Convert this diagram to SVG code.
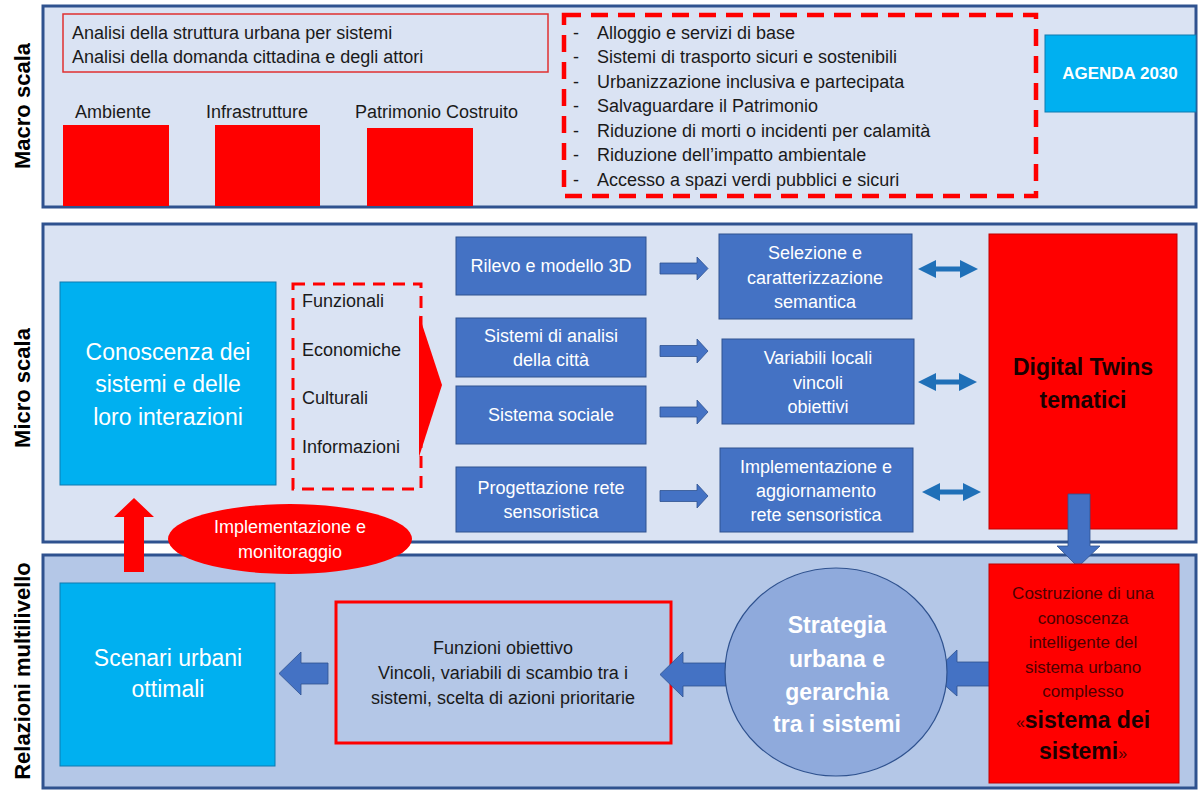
<svg xmlns="http://www.w3.org/2000/svg" width="1200" height="791" viewBox="0 0 1200 791">
<defs>
<style>
text{font-family:"Liberation Sans",Arial,sans-serif;}
.panel{stroke:#2f528f;stroke-width:3;}
.side{font-size:22px;font-weight:bold;fill:#000;text-anchor:middle;}
.t18{font-size:18px;fill:#1a1a1a;}
.w18{font-size:18px;fill:#fff;text-anchor:middle;}
.w23{font-size:23px;fill:#fff;text-anchor:middle;}
.blue{fill:#4472c4;stroke:#2f528f;stroke-width:1;}
.cyan{fill:#00b0f0;stroke:#0f7ab0;stroke-width:1;}
.barrow{fill:#4472c4;stroke:#2f528f;stroke-width:0.8;}
.darrow{fill:#1f70b8;}
.red{fill:#ff0000;}
</style>
</defs>

<!-- panels -->
<g id="panel-macro"><rect class="panel" x="43" y="6" width="1153" height="201" fill="#dae3f3"/>
<text class="side" transform="translate(30,106) rotate(-90)">Macro scala</text></g>
<g id="panel-micro"><rect class="panel" x="43" y="224" width="1153" height="318" fill="#dae3f3"/>
<text class="side" transform="translate(30,388) rotate(-90)">Micro scala</text></g>
<g id="panel-multi"><rect class="panel" x="43" y="555" width="1153" height="233" fill="#b4c7e7"/>
<text class="side" transform="translate(30,671) rotate(-90)">Relazioni multilivello</text></g>

<!-- macro -->
<g id="analisi"><rect x="63" y="14" width="485" height="58" fill="none" stroke="#e03030" stroke-width="1.5"/>
<text class="t18" x="72" y="39">Analisi della struttura urbana per sistemi</text>
<text class="t18" x="72" y="63">Analisi della domanda cittadina e degli attori</text></g>
<g id="ambiente"><text class="t18" x="75" y="118">Ambiente</text><rect class="red" x="63" y="125" width="106" height="81"/></g>
<g id="infrastrutture"><text class="t18" x="206" y="118">Infrastrutture</text><rect class="red" x="215" y="125" width="105" height="81"/></g>
<g id="patrimonio"><text class="t18" x="355" y="118">Patrimonio Costruito</text><rect class="red" x="367" y="128" width="106" height="78"/></g>
<g id="obiettivi-lista"><rect x="564" y="15" width="472" height="181" fill="none" stroke="#ff0000" stroke-width="4.5" stroke-dasharray="17 10"/>
<g class="t18">
<text x="573" y="39">-</text><text x="597" y="39">Alloggio e servizi di base</text>
<text x="573" y="63">-</text><text x="597" y="63">Sistemi di trasporto sicuri e sostenibili</text>
<text x="573" y="88">-</text><text x="597" y="88">Urbanizzazione inclusiva e partecipata</text>
<text x="573" y="112">-</text><text x="597" y="112">Salvaguardare il Patrimonio</text>
<text x="573" y="137">-</text><text x="597" y="137">Riduzione di morti o incidenti per calamità</text>
<text x="573" y="161">-</text><text x="597" y="161">Riduzione dell’impatto ambientale</text>
<text x="573" y="186">-</text><text x="597" y="186">Accesso a spazi verdi pubblici e sicuri</text>
</g></g>
<g id="agenda"><rect class="cyan" x="1045" y="35" width="151" height="77"/>
<text x="1120" y="79" font-size="17" font-weight="bold" fill="#fff" text-anchor="middle">AGENDA 2030</text></g>

<!-- micro -->
<g id="conoscenza"><rect class="cyan" x="60" y="282" width="216" height="203"/>
<text class="w23" x="168" y="360">Conoscenza dei</text>
<text class="w23" x="168" y="392">sistemi e delle</text>
<text class="w23" x="168" y="425">loro interazioni</text></g>
<g id="dimensioni"><rect x="293" y="284" width="128" height="205" fill="none" stroke="#ff0000" stroke-width="3" stroke-dasharray="12 8"/>
<g class="t18"><text x="302" y="307">Funzionali</text><text x="302" y="356">Economiche</text><text x="302" y="404">Culturali</text><text x="302" y="453">Informazioni</text></g></g>
<g id="rilevo"><rect class="blue" x="456" y="237" width="190" height="58"/><text class="w18" x="551" y="272">Rilevo e modello 3D</text></g>
<g id="sistemi-analisi"><rect class="blue" x="456" y="318" width="190" height="59"/><text class="w18" x="551" y="342">Sistemi di analisi</text><text class="w18" x="551" y="366">della città</text></g>
<g id="sociale"><rect class="blue" x="456" y="386" width="190" height="58"/><text class="w18" x="551" y="421">Sistema sociale</text></g>
<g id="progettazione"><rect class="blue" x="456" y="467" width="190" height="65"/><text class="w18" x="551" y="494">Progettazione rete</text><text class="w18" x="551" y="518">sensoristica</text></g>
<g id="selezione"><rect class="blue" x="719" y="234" width="193" height="85"/><text class="w18" x="815" y="259">Selezione e</text><text class="w18" x="815" y="284">caratterizzazione</text><text class="w18" x="815" y="308">semantica</text></g>
<g id="variabili"><rect class="blue" x="722" y="339" width="192" height="85"/><text class="w18" x="818" y="364">Variabili locali</text><text class="w18" x="818" y="389">vincoli</text><text class="w18" x="818" y="413">obiettivi</text></g>
<g id="implementazione"><rect class="blue" x="720" y="448" width="193" height="84"/><text class="w18" x="816" y="473">Implementazione e</text><text class="w18" x="816" y="497">aggiornamento</text><text class="w18" x="816" y="521">rete sensoristica</text></g>
<g id="digital-twins"><rect x="989" y="234" width="188" height="295" fill="#ff0000" stroke="#c00000" stroke-width="1"/>
<text x="1083" y="375" font-size="23" font-weight="bold" fill="#1a0000" text-anchor="middle">Digital Twins</text>
<text x="1083" y="408" font-size="23" font-weight="bold" fill="#1a0000" text-anchor="middle">tematici</text></g>

<!-- bottom -->
<g id="scenari"><rect class="cyan" x="60" y="583" width="215" height="183"/>
<text class="w23" x="168" y="666">Scenari urbani</text><text class="w23" x="168" y="697">ottimali</text></g>
<g id="funzioni"><rect x="336" y="602" width="335" height="141" fill="none" stroke="#ff0000" stroke-width="3"/>
<g class="t18" text-anchor="middle"><text x="503" y="654">Funzioni obiettivo</text><text x="503" y="679">Vincoli, variabili di scambio tra i</text><text x="503" y="704">sistemi, scelta di azioni prioritarie</text></g></g>

<!-- connectors -->
<g id="connectors">
<path class="barrow" d="M660 263H697V257L708 268.5L697 280V274H660Z"/>
<path class="barrow" d="M660 345.5H697V339L708 351L697 363V356.5H660Z"/>
<path class="barrow" d="M660 407H697V400L708 412L697 424V417H660Z"/>
<path class="barrow" d="M660 490.5H697V484L708 496L697 508V501.5H660Z"/>
<path class="darrow" d="M918 269L936 260V266.5H960V260L978 269L960 278V271.5H936V278Z"/>
<path class="darrow" d="M918 382L936 373V379.5H959V373L977 382L959 391V384.5H936V391Z"/>
<path class="darrow" d="M922 492L940 483V489.5H963V483L981 492L963 501V494.5H940V501Z"/>
<path class="red" d="M419 315L442 385L419 457Z"/>
<path class="red" d="M124 572V517H114L134 498L154 517H144V572Z"/>
<path class="barrow" d="M1068 494H1090V546H1100L1078 567L1057 546H1068Z"/>
<path class="barrow" d="M328 663V684H301V695L279 673.5L301 652V663Z"/>
<path class="barrow" d="M726 663V686H683V697L660 674.5L683 652V663Z"/>
<path class="barrow" d="M995 662V686H957V696L932 674L957 650V662Z"/>
</g>

<g id="monitoraggio"><ellipse cx="290" cy="539" rx="122" ry="35" fill="#ff0000"/>
<text class="w18" x="290" y="533">Implementazione e</text><text class="w18" x="290" y="558">monitoraggio</text></g>

<g id="strategia"><ellipse cx="836" cy="672" rx="111" ry="104" fill="#8faadc" stroke="#2f528f" stroke-width="1.2"/>
<g font-size="23" font-weight="bold" fill="#fff" text-anchor="middle">
<text x="837" y="633">Strategia</text><text x="837" y="667">urbana e</text><text x="837" y="700">gerarchia</text><text x="837" y="732">tra i sistemi</text></g></g>

<g id="sistema-dei-sistemi"><rect x="989" y="564" width="190" height="219" fill="#ff0000" stroke="#c00000" stroke-width="1"/>
<g font-size="17" fill="#4d0000" text-anchor="middle">
<text x="1083" y="599">Costruzione di una</text><text x="1083" y="624">conoscenza</text><text x="1083" y="648">intelligente del</text><text x="1083" y="673">sistema urbano</text><text x="1083" y="697">complesso</text></g>
<text x="1083" y="728" text-anchor="middle" fill="#1a0000"><tspan font-size="16" fill="#4d0000">«</tspan><tspan font-size="23" font-weight="bold">sistema dei</tspan></text>
<text x="1083" y="759" text-anchor="middle" fill="#1a0000"><tspan font-size="23" font-weight="bold">sistemi</tspan><tspan font-size="16" fill="#4d0000">»</tspan></text></g>
</svg>
